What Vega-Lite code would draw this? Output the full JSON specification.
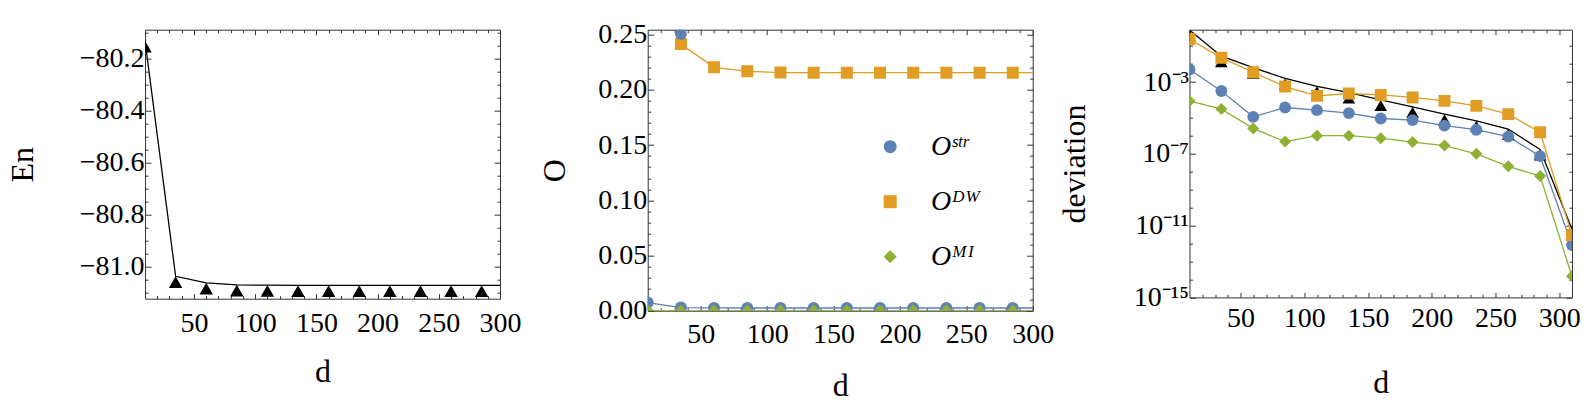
{
  "$schema": "https://vega.github.io/schema/vega-lite/v6.json",
  "background": "white",
  "padding": {"left": 5, "top": 17.7, "right": 5, "bottom": 5},
  "config": {
    "font": "Liberation Serif",
    "view": {"stroke": "#333333", "strokeWidth": 1},
    "axis": {"domain": false, "grid": false, "labelFont": "Liberation Serif", "labelFontSize": 28, "labelColor": "#000000", "titleFont": "Liberation Serif", "titleFontSize": 32, "titleFontWeight": "normal", "titleColor": "#000000", "tickColor": "#333333", "tickWidth": 1, "labelOverlap": false, "labelBound": false, "labelFlush": false}
  },
  "datasets": {
    "en": [
      {"d": 10, "En": -80.131}, {"d": 35, "En": -81.036}, {"d": 60, "En": -81.061}, {"d": 85, "En": -81.069},
      {"d": 110, "En": -81.070}, {"d": 135, "En": -81.071}, {"d": 160, "En": -81.071}, {"d": 185, "En": -81.071},
      {"d": 210, "En": -81.071}, {"d": 235, "En": -81.071}, {"d": 260, "En": -81.071}, {"d": 285, "En": -81.071}, {"d": 310, "En": -81.071}
    ],
    "obs": [
      {"d": 10, "s": "Oˢᵗʳ", "v": 0.0074}, {"d": 35, "s": "Oˢᵗʳ", "v": 0.0028}, {"d": 60, "s": "Oˢᵗʳ", "v": 0.00246}, {"d": 85, "s": "Oˢᵗʳ", "v": 0.00245},
      {"d": 110, "s": "Oˢᵗʳ", "v": 0.00245}, {"d": 135, "s": "Oˢᵗʳ", "v": 0.00245}, {"d": 160, "s": "Oˢᵗʳ", "v": 0.00245}, {"d": 185, "s": "Oˢᵗʳ", "v": 0.00245},
      {"d": 210, "s": "Oˢᵗʳ", "v": 0.00245}, {"d": 235, "s": "Oˢᵗʳ", "v": 0.00245}, {"d": 260, "s": "Oˢᵗʳ", "v": 0.00245}, {"d": 285, "s": "Oˢᵗʳ", "v": 0.00245}, {"d": 310, "s": "Oˢᵗʳ", "v": 0.00245},
      {"d": 10, "s": "Oᴰᵂ", "v": 0.466}, {"d": 35, "s": "Oᴰᵂ", "v": 0.2415}, {"d": 60, "s": "Oᴰᵂ", "v": 0.2204}, {"d": 85, "s": "Oᴰᵂ", "v": 0.2168},
      {"d": 110, "s": "Oᴰᵂ", "v": 0.2157}, {"d": 135, "s": "Oᴰᵂ", "v": 0.2156}, {"d": 160, "s": "Oᴰᵂ", "v": 0.2156}, {"d": 185, "s": "Oᴰᵂ", "v": 0.2156},
      {"d": 210, "s": "Oᴰᵂ", "v": 0.2156}, {"d": 235, "s": "Oᴰᵂ", "v": 0.2156}, {"d": 260, "s": "Oᴰᵂ", "v": 0.2156}, {"d": 285, "s": "Oᴰᵂ", "v": 0.2156}, {"d": 310, "s": "Oᴰᵂ", "v": 0.2156},
      {"d": 10, "s": "Oᴹᴵ", "v": 0.0001}, {"d": 35, "s": "Oᴹᴵ", "v": 0.00005}, {"d": 60, "s": "Oᴹᴵ", "v": 0.00005}, {"d": 85, "s": "Oᴹᴵ", "v": 0.00005},
      {"d": 110, "s": "Oᴹᴵ", "v": 0.00005}, {"d": 135, "s": "Oᴹᴵ", "v": 0.00005}, {"d": 160, "s": "Oᴹᴵ", "v": 0.00005}, {"d": 185, "s": "Oᴹᴵ", "v": 0.00005},
      {"d": 210, "s": "Oᴹᴵ", "v": 0.00005}, {"d": 235, "s": "Oᴹᴵ", "v": 0.00005}, {"d": 260, "s": "Oᴹᴵ", "v": 0.00005}, {"d": 285, "s": "Oᴹᴵ", "v": 0.00005}, {"d": 310, "s": "Oᴹᴵ", "v": 0.00005}
    ],
    "otop": [{"d": 35, "v": 0.2505}],
    "dev": [
      {"d": 10, "s": "En", "v": 0.79}, {"d": 35, "s": "En", "v": 0.0275}, {"d": 60, "s": "En", "v": 0.0063}, {"d": 85, "s": "En", "v": 0.00158},
      {"d": 110, "s": "En", "v": 0.000575}, {"d": 135, "s": "En", "v": 0.000257}, {"d": 160, "s": "En", "v": 0.0001}, {"d": 185, "s": "En", "v": 0.0000417},
      {"d": 210, "s": "En", "v": 0.0000162}, {"d": 235, "s": "En", "v": 0.0000069}, {"d": 260, "s": "En", "v": 0.0000024}, {"d": 285, "s": "En", "v": 1.74e-7}, {"d": 310, "s": "En", "v": 6.3e-12},
      {"d": 10, "s": "Str", "v": 0.005}, {"d": 35, "s": "Str", "v": 0.000316}, {"d": 60, "s": "Str", "v": 0.0000115}, {"d": 85, "s": "Str", "v": 0.000038},
      {"d": 110, "s": "Str", "v": 0.000027}, {"d": 135, "s": "Str", "v": 0.0000186}, {"d": 160, "s": "Str", "v": 0.0000093}, {"d": 185, "s": "Str", "v": 0.0000076},
      {"d": 210, "s": "Str", "v": 0.0000037}, {"d": 235, "s": "Str", "v": 0.0000022}, {"d": 260, "s": "Str", "v": 9.1e-7}, {"d": 285, "s": "Str", "v": 7.4e-8}, {"d": 310, "s": "Str", "v": 8.3e-13},
      {"d": 10, "s": "DW", "v": 0.251}, {"d": 35, "s": "DW", "v": 0.0224}, {"d": 60, "s": "DW", "v": 0.0035}, {"d": 85, "s": "DW", "v": 0.00056},
      {"d": 110, "s": "DW", "v": 0.00017}, {"d": 135, "s": "DW", "v": 0.00023}, {"d": 160, "s": "DW", "v": 0.00019}, {"d": 185, "s": "DW", "v": 0.000138},
      {"d": 210, "s": "DW", "v": 0.000089}, {"d": 235, "s": "DW", "v": 0.000047}, {"d": 260, "s": "DW", "v": 0.0000162}, {"d": 285, "s": "DW", "v": 0.00000158}, {"d": 310, "s": "DW", "v": 3.0e-12},
      {"d": 10, "s": "MI", "v": 0.000089}, {"d": 35, "s": "MI", "v": 0.000031}, {"d": 60, "s": "MI", "v": 0.0000026}, {"d": 85, "s": "MI", "v": 4.8e-7},
      {"d": 110, "s": "MI", "v": 0.00000102}, {"d": 135, "s": "MI", "v": 0.00000102}, {"d": 160, "s": "MI", "v": 7.4e-7}, {"d": 185, "s": "MI", "v": 4.5e-7},
      {"d": 210, "s": "MI", "v": 2.9e-7}, {"d": 235, "s": "MI", "v": 1.0e-7}, {"d": 260, "s": "MI", "v": 2.0e-8}, {"d": 285, "s": "MI", "v": 5.8e-9}, {"d": 310, "s": "MI", "v": 1.5e-14}
    ]
  },
  "bounds": "flush",
  "spacing": 147.7,
  "resolve": {"scale": {"color": "independent", "shape": "independent"}, "legend": {"color": "independent", "shape": "independent"}},
  "hconcat": [
    {
      "width": 355,
      "height": 269,
      "data": {"name": "en"},
      "resolve": {"axis": {"x": "independent", "y": "independent"}},
      "layer": [
        {
          "mark": {"type": "line", "color": "#000000", "strokeWidth": 1.3, "clip": true},
          "encoding": {
            "x": {"field": "d", "type": "quantitative", "scale": {"domain": [10, 300], "nice": false, "zero": false},
              "axis": {"orient": "bottom", "values": [20,30,40,50,60,70,80,90,100,110,120,130,140,150,160,170,180,190,200,210,220,230,240,250,260,270,280,290,300],
                "labelExpr": "datum.value % 50 === 0 ? datum.label : ''",
                "tickSize": {"condition": {"test": "datum.value % 50 === 0", "value": -5}, "value": -3},
                "labelPadding": 15.7, "title": "d", "titlePadding": 17.6}},
            "y": {"field": "En", "type": "quantitative", "scale": {"domain": [-81.122, -80.0886], "nice": false, "zero": false},
              "axis": {"orient": "left", "values": [-81.1,-81.05,-81,-80.95,-80.9,-80.85,-80.8,-80.75,-80.7,-80.65,-80.6,-80.55,-80.5,-80.45,-80.4,-80.35,-80.3,-80.25,-80.2,-80.15,-80.1],
                "format": ".1f",
                "labelExpr": "abs(datum.value * 5 - round(datum.value * 5)) < 0.001 ? datum.label : ''",
                "tickSize": {"condition": {"test": "abs(datum.value * 5 - round(datum.value * 5)) < 0.001", "value": -6}, "value": -3},
                "labelPadding": 7, "title": "En", "titlePadding": 40}}
          }
        },
        {
          "mark": {"type": "point", "shape": "triangle-up", "filled": true, "color": "#000000", "opacity": 1, "size": 182, "yOffset": 5.8, "clip": true},
          "encoding": {
            "x": {"field": "d", "type": "quantitative", "scale": {"domain": [10, 300], "nice": false, "zero": false},
              "axis": {"orient": "top", "values": [20,30,40,50,60,70,80,90,100,110,120,130,140,150,160,170,180,190,200,210,220,230,240,250,260,270,280,290,300],
                "labels": false, "title": null,
                "tickSize": {"condition": {"test": "datum.value % 50 === 0", "value": -5}, "value": -3}}},
            "y": {"field": "En", "type": "quantitative", "scale": {"domain": [-81.122, -80.0886], "nice": false, "zero": false},
              "axis": {"orient": "right", "values": [-81.1,-81.05,-81,-80.95,-80.9,-80.85,-80.8,-80.75,-80.7,-80.65,-80.6,-80.55,-80.5,-80.45,-80.4,-80.35,-80.3,-80.25,-80.2,-80.15,-80.1],
                "labels": false, "title": null,
                "tickSize": {"condition": {"test": "abs(datum.value * 5 - round(datum.value * 5)) < 0.001", "value": -6}, "value": -3}}}
          }
        }
      ]
    },
    {
      "bounds": "flush",
      "spacing": 156.8,
      "resolve": {"scale": {"color": "independent", "shape": "independent"}, "legend": {"color": "independent", "shape": "independent"}},
      "hconcat": [
        {
          "width": 385,
          "height": 281,
          "resolve": {"axis": {"x": "independent", "y": "independent"}},
          "layer": [
            {
              "data": {"name": "obs"},
              "mark": {"type": "line", "strokeWidth": 1.3, "clip": true},
              "encoding": {
                "x": {"field": "d", "type": "quantitative", "scale": {"domain": [10, 300], "nice": false, "zero": false},
                  "axis": {"orient": "bottom", "values": [20,30,40,50,60,70,80,90,100,110,120,130,140,150,160,170,180,190,200,210,220,230,240,250,260,270,280,290,300],
                    "labelExpr": "datum.value % 50 === 0 ? datum.label : ''",
                    "tickSize": {"condition": {"test": "datum.value % 50 === 0", "value": -5}, "value": -3},
                    "labelPadding": 15.3, "title": "d", "titlePadding": 19.4}},
                "y": {"field": "v", "type": "quantitative", "scale": {"domain": [0, 0.2545], "nice": false, "zero": false},
                  "axis": {"orient": "left", "values": [0,0.01,0.02,0.03,0.04,0.05,0.06,0.07,0.08,0.09,0.1,0.11,0.12,0.13,0.14,0.15,0.16,0.17,0.18,0.19,0.2,0.21,0.22,0.23,0.24,0.25],
                    "format": ".2f",
                    "labelExpr": "abs(datum.value * 20 - round(datum.value * 20)) < 0.001 ? datum.label : ''",
                    "tickSize": {"condition": {"test": "abs(datum.value * 20 - round(datum.value * 20)) < 0.001", "value": -6}, "value": -3},
                    "labelPadding": 7, "title": "O", "titlePadding": 26.3}},
                "color": {"field": "s", "type": "nominal", "scale": {"domain": ["Oˢᵗʳ", "Oᴰᵂ", "Oᴹᴵ"], "range": ["#5E81B5", "#E19C24", "#8FB032"]}}
              }
            },
            {
              "data": {"name": "obs"},
              "mark": {"type": "point", "filled": true, "opacity": 1, "size": 145, "clip": true},
              "encoding": {
                "x": {"field": "d", "type": "quantitative", "scale": {"domain": [10, 300], "nice": false, "zero": false},
                  "axis": {"orient": "top", "values": [20,30,40,50,60,70,80,90,100,110,120,130,140,150,160,170,180,190,200,210,220,230,240,250,260,270,280,290,300],
                    "labels": false, "title": null,
                    "tickSize": {"condition": {"test": "datum.value % 50 === 0", "value": -5}, "value": -3}}},
                "y": {"field": "v", "type": "quantitative", "scale": {"domain": [0, 0.2545], "nice": false, "zero": false},
                  "axis": {"orient": "right", "values": [0,0.01,0.02,0.03,0.04,0.05,0.06,0.07,0.08,0.09,0.1,0.11,0.12,0.13,0.14,0.15,0.16,0.17,0.18,0.19,0.2,0.21,0.22,0.23,0.24,0.25],
                    "labels": false, "title": null,
                    "tickSize": {"condition": {"test": "abs(datum.value * 20 - round(datum.value * 20)) < 0.001", "value": -6}, "value": -3}}},
                "color": {"field": "s", "type": "nominal", "scale": {"domain": ["Oˢᵗʳ", "Oᴰᵂ", "Oᴹᴵ"], "range": ["#5E81B5", "#E19C24", "#8FB032"]},
                  "legend": {"orient": "none", "legendX": 228.5, "legendY": 103, "title": null, "padding": 0,
                    "symbolSize": 170, "symbolStrokeWidth": 0, "symbolOpacity": 1,
                    "labelFont": "Liberation Serif", "labelFontSize": 28, "labelFontStyle": "italic", "labelColor": "#000000",
                    "labelOffset": 26.8, "rowPadding": 27}},
                "shape": {"field": "s", "type": "nominal", "scale": {"domain": ["Oˢᵗʳ", "Oᴰᵂ", "Oᴹᴵ"], "range": ["circle", "square", "diamond"]}}
              }
            },
            {
              "data": {"name": "otop"},
              "mark": {"type": "point", "shape": "circle", "filled": true, "opacity": 1, "color": "#5E81B5", "size": 140, "clip": true},
              "encoding": {
                "x": {"field": "d", "type": "quantitative", "scale": {"domain": [10, 300], "nice": false, "zero": false}, "axis": null},
                "y": {"field": "v", "type": "quantitative", "scale": {"domain": [0, 0.2545], "nice": false, "zero": false}, "axis": null}
              }
            }
          ]
        },
        {
          "width": 382.5,
          "height": 267.7,
          "data": {"name": "dev"},
          "resolve": {"axis": {"x": "independent", "y": "independent"}},
          "layer": [
            {
              "mark": {"type": "line", "strokeWidth": 1.3, "clip": true},
              "encoding": {
                "x": {"field": "d", "type": "quantitative", "scale": {"domain": [10, 310], "nice": false, "zero": false},
                  "axis": {"orient": "bottom", "values": [20,30,40,50,60,70,80,90,100,110,120,130,140,150,160,170,180,190,200,210,220,230,240,250,260,270,280,290,300],
                    "labelExpr": "datum.value % 50 === 0 ? datum.label : ''",
                    "tickSize": {"condition": {"test": "datum.value % 50 === 0", "value": -5}, "value": -3},
                    "labelPadding": 12, "title": "d", "titlePadding": 33.6}},
                "y": {"field": "v", "type": "quantitative", "scale": {"type": "log", "domain": [1e-15, 0.824], "nice": false},
                  "axis": {"orient": "left", "values": [1e-15,1e-14,1e-13,1e-12,1e-11,1e-10,1e-9,1e-8,1e-7,1e-6,1e-5,1e-4,1e-3,1e-2,1e-1],
                    "labelExpr": "abs(log(datum.value)/LN10 + 15) < 0.01 ? '10⁻¹⁵' : abs(log(datum.value)/LN10 + 11) < 0.01 ? '10⁻¹¹' : abs(log(datum.value)/LN10 + 7) < 0.01 ? '10⁻⁷' : abs(log(datum.value)/LN10 + 3) < 0.01 ? '10⁻³' : ''",
                    "tickSize": {"condition": {"test": "abs(log(datum.value)/LN10 + 15) < 0.01 || abs(log(datum.value)/LN10 + 11) < 0.01 || abs(log(datum.value)/LN10 + 7) < 0.01 || abs(log(datum.value)/LN10 + 3) < 0.01", "value": -6}, "value": -3},
                    "labelPadding": 7, "title": "deviation", "titlePadding": 42}},
                "color": {"field": "s", "type": "nominal", "scale": {"domain": ["En", "Str", "DW", "MI"], "range": ["#000000", "#5E81B5", "#E19C24", "#8FB032"]}, "legend": null}
              }
            },
            {
              "transform": [{"filter": "datum.s === 'En'"}],
              "mark": {"type": "point", "shape": "triangle-up", "filled": true, "color": "#000000", "opacity": 1, "size": 160, "yOffset": 5.5, "clip": true},
              "encoding": {
                "x": {"field": "d", "type": "quantitative", "scale": {"domain": [10, 310], "nice": false, "zero": false},
                  "axis": {"orient": "top", "values": [20,30,40,50,60,70,80,90,100,110,120,130,140,150,160,170,180,190,200,210,220,230,240,250,260,270,280,290,300],
                    "labels": false, "title": null,
                    "tickSize": {"condition": {"test": "datum.value % 50 === 0", "value": -5}, "value": -3}}},
                "y": {"field": "v", "type": "quantitative", "scale": {"type": "log", "domain": [1e-15, 0.824], "nice": false},
                  "axis": {"orient": "right", "values": [1e-15,1e-14,1e-13,1e-12,1e-11,1e-10,1e-9,1e-8,1e-7,1e-6,1e-5,1e-4,1e-3,1e-2,1e-1],
                    "labels": false, "title": null,
                    "tickSize": {"condition": {"test": "abs(log(datum.value)/LN10 + 15) < 0.01 || abs(log(datum.value)/LN10 + 11) < 0.01 || abs(log(datum.value)/LN10 + 7) < 0.01 || abs(log(datum.value)/LN10 + 3) < 0.01", "value": -6}, "value": -3}}}
              }
            },
            {
              "transform": [{"filter": "datum.s !== 'En'"}],
              "mark": {"type": "point", "filled": true, "opacity": 1, "clip": true},
              "encoding": {
                "x": {"field": "d", "type": "quantitative", "scale": {"domain": [10, 310], "nice": false, "zero": false}, "axis": null},
                "y": {"field": "v", "type": "quantitative", "scale": {"type": "log", "domain": [1e-15, 0.824], "nice": false}, "axis": null},
                "color": {"field": "s", "type": "nominal", "scale": {"domain": ["En", "Str", "DW", "MI"], "range": ["#000000", "#5E81B5", "#E19C24", "#8FB032"]}, "legend": null},
                "shape": {"field": "s", "type": "nominal", "scale": {"domain": ["Str", "DW", "MI"], "range": ["circle", "square", "diamond"]}, "legend": null},
                "size": {"field": "s", "type": "nominal", "scale": {"domain": ["Str", "DW", "MI"], "range": [140, 144, 160]}, "legend": null}
              }
            }
          ]
        }
      ]
    }
  ]
}
